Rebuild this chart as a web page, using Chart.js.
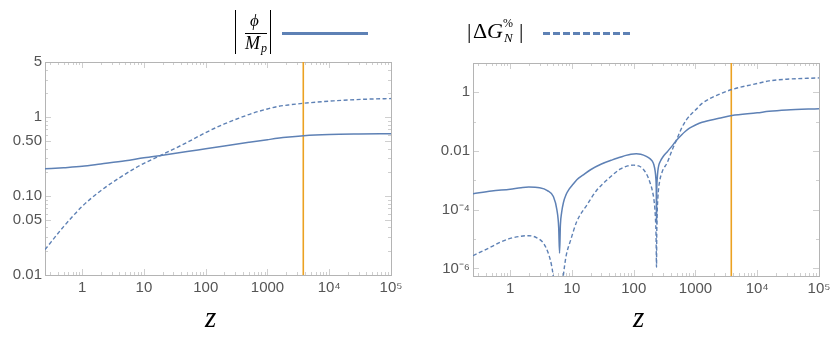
<!DOCTYPE html>
<html>
<head>
<meta charset="utf-8">
<script src="https://cdn.jsdelivr.net/npm/chart.js@4.4.1/dist/chart.umd.min.js"></script>
<style>
  body { margin: 0; background: #fff; }
  #wrap { position: relative; width: 833px; height: 344px; overflow: hidden; }
  canvas { position: absolute; top: 0; }
  #chartA { left: 0; }
  #chartB { left: 420px; }
  .lg { position: absolute; font-family: "Liberation Serif", serif; color: #000; white-space: nowrap; }
  .it { font-style: italic; }
  .bar { position: absolute; background: #000; }
  .swatch { position: absolute; height: 3px; }
</style>
</head>
<body>
<div id="wrap">
  <canvas id="chartA" width="420" height="344"></canvas>
  <canvas id="chartB" width="413" height="344"></canvas>

  <!-- legend: |phi / M_p|  solid -->
  <div class="bar" style="left:235px;top:10px;width:1.3px;height:44px"></div>
  <span class="lg it" style="left:250px;top:12px;font-size:17px;line-height:17px">ϕ</span>
  <div class="bar" style="left:245px;top:33px;width:22px;height:1px"></div>
  <span class="lg it" style="left:245px;top:34px;font-size:18px;line-height:18px">M</span>
  <span class="lg it" style="left:261px;top:42px;font-size:12px;line-height:12px">p</span>
  <div class="bar" style="left:270px;top:10px;width:1.3px;height:44px"></div>
  <div class="swatch" style="left:282px;top:32px;width:86px;background:#5e81b5"></div>

  <!-- legend: |Delta G_N^%|  dashed -->
  <span class="lg" style="left:467px;top:20px;font-size:22px;line-height:22px">|</span>
  <span class="lg" style="left:473px;top:20px;font-size:22px;line-height:22px">Δ</span>
  <span class="lg it" style="left:487px;top:20px;font-size:22px;line-height:22px">G</span>
  <span class="lg" style="left:503px;top:17px;font-size:12px;line-height:12px">%</span>
  <span class="lg it" style="left:504px;top:31px;font-size:13px;line-height:13px">N</span>
  <span class="lg" style="left:519px;top:20px;font-size:22px;line-height:22px">|</span>
  <div class="swatch" style="left:543px;top:32px;width:88px;background:repeating-linear-gradient(90deg,#5e81b5 0 7px,transparent 7px 10px)"></div>
</div>

<script>
// ---- data ----
const xTicks = [1, 10, 100, 1000, 1e4, 1e5];
const xTickLabels = ['1', '10', '100', '1000', '10⁴', '10⁵'];
const zEq = 3800; // orange vertical line

// left panel
const yTicksA = [0.01, 0.05, 0.1, 0.5, 1, 5];
const yTickLabelsA = ['0.01', '0.05', '0.10', '0.50', '1', '5'];
const zPhiA = [0.25, 0.5, 1, 2, 5, 10, 20, 50, 100, 200, 500, 1000, 2000, 3870, 1e4, 3e4, 1e5];
const phiA = [0.222, 0.229, 0.238, 0.255, 0.28, 0.306, 0.33, 0.366, 0.398, 0.432, 0.48, 0.518, 0.555, 0.582, 0.603, 0.612, 0.616];
const zDgA = [0.25, 0.5, 1, 2, 4, 8, 20, 50, 100, 200, 357, 600, 1000, 1500, 2400, 3870, 1.17e4, 4e4, 1e5];
const dgA = [0.021, 0.041, 0.074, 0.117, 0.17, 0.237, 0.337, 0.479, 0.638, 0.82, 0.98, 1.135, 1.27, 1.37, 1.44, 1.5, 1.61, 1.69, 1.72];

// right panel
const yTicksB = [1e-6, 1e-4, 0.01, 1];
const yTickLabelsB = ['10⁻⁶', '10⁻⁴', '0.01', '1'];
const zPhiB = [0.25, 0.5, 1, 1.5, 2, 3, 4, 5, 5.7, 6.1, 6.3, 6.5, 6.8, 7.3, 8, 9, 10.5, 12, 15, 20, 30, 45, 60, 75, 90, 110,
  130, 160, 185, 200, 212, 222, 228, 232, 234,
  236, 240, 246, 255, 270, 300, 350, 420, 490, 600, 689, 800, 1000, 1280, 2400, 3900, 1e4, 1.55e4, 3e4, 1e5];
const phiB = [3.5e-4, 4.3e-4, 5.0e-4, 5.6e-4, 5.9e-4, 5.6e-4, 4.5e-4, 2.8e-4, 1e-4, 2.5e-5, 3.3e-6, 3e-5, 8e-5, 1.8e-4, 3.2e-4, 5e-4, 7.5e-4, 1.05e-3,
  1.5e-3, 2.3e-3, 3.6e-3, 5e-3, 6.1e-3, 7.1e-3, 7.8e-3, 8.1e-3,
  7.8e-3, 6.6e-3, 5.4e-3, 4.5e-3, 3.4e-3, 2.1e-3, 1.2e-3, 4.5e-4, 3.4e-5,
  4e-4, 1.1e-3, 2.1e-3, 3.3e-3, 4.5e-3, 6.5e-3, 9.5e-3, 0.015, 0.023, 0.036, 0.047, 0.06, 0.077, 0.096, 0.13, 0.162, 0.2, 0.225, 0.25, 0.278];
const zDgB = [0.25, 0.5, 0.7, 1, 1.5, 2, 2.7, 3.5, 4.2, 4.7, 5.0, 5.9, 7.2, 8, 9.5, 12, 18, 25, 40, 60, 80, 100,
  120, 140, 165, 185, 200, 215, 225, 230, 234,
  236, 238, 242, 250, 262, 290, 348, 420, 490, 600, 700, 850, 1000, 1280, 2400, 3900, 1e4, 1.55e4, 3e4, 1e5];
const dgB = [2.7e-6, 5.5e-6, 7.9e-6, 1.05e-5, 1.25e-5, 1.3e-5, 1.1e-5, 7e-6, 3e-6, 1.2e-6, 5e-7, 1e-8, 5e-7, 2.5e-6, 9e-6, 4e-5, 1.6e-4, 4.5e-4, 1.2e-3, 2.4e-3, 3.1e-3, 3.3e-3,
  3.1e-3, 2.5e-3, 1.5e-3, 8e-4, 4.5e-4, 1.8e-4, 5e-5, 1.3e-5, 1.1e-6,
  1.5e-5, 4e-5, 1.3e-4, 4e-4, 9e-4, 2e-3, 4e-3, 0.011, 0.023, 0.062, 0.11, 0.18, 0.25, 0.42, 0.85, 1.25, 2.0, 2.45, 2.8, 3.1];

const BLUE = '#5e81b5';
const ORANGE = '#eba122';
const TICK_FONT = { family: "'Liberation Sans', Arial, sans-serif", size: 15 };
const TICK_COLOR = '#555';

// log minor tick positions (2..9 per decade, or just whole decades)
function minorValues(min, max, everyDigit) {
  const out = [];
  for (let e = Math.floor(Math.log10(min)); e <= Math.ceil(Math.log10(max)); e++) {
    const ks = everyDigit ? [2, 3, 4, 5, 6, 7, 8, 9] : [1];
    ks.forEach(k => {
      const v = k * Math.pow(10, e);
      if (v >= min && v <= max) out.push(v);
    });
  }
  return out;
}

// Mathematica style frame with inward ticks on all four sides
const frameTicks = {
  id: 'frameTicks',
  beforeDatasetsDraw(chart, args, opts) {
    const { ctx, chartArea: a, scales } = chart;
    ctx.save();
    ctx.lineWidth = 1;
    ctx.strokeStyle = '#cfcfcf';
    const mark = (scale, v, len) => {
      const p = Math.round(scale.getPixelForValue(v)) + 0.5;
      ctx.beginPath();
      if (scale.axis === 'x') {
        ctx.moveTo(p, a.bottom); ctx.lineTo(p, a.bottom - len);
        ctx.moveTo(p, a.top); ctx.lineTo(p, a.top + len);
      } else {
        ctx.moveTo(a.left, p); ctx.lineTo(a.left + len, p);
        ctx.moveTo(a.right, p); ctx.lineTo(a.right - len, p);
      }
      ctx.stroke();
    };
    minorValues(scales.x.min, scales.x.max, true).forEach(v => mark(scales.x, v, 3));
    minorValues(scales.y.min, scales.y.max, opts.yMinorDigits).forEach(v => mark(scales.y, v, 3));
    scales.x.ticks.forEach(t => mark(scales.x, t.value, 6));
    scales.y.ticks.forEach(t => mark(scales.y, t.value, 6));
    ctx.strokeStyle = '#b4b4b4';
    ctx.strokeRect(Math.round(a.left) + 0.5, Math.round(a.top) + 0.5,
      Math.round(a.right - a.left), Math.round(a.bottom - a.top));
    ctx.restore();
  }
};

const toPoints = (xs, ys) => xs.map((x, i) => ({ x: x, y: ys[i] }));

function makeChart(id, c) {
  return new Chart(document.getElementById(id), {
    type: 'line',
    data: {
      datasets: [
        { data: toPoints(c.zPhi, c.phi), borderColor: BLUE, borderWidth: 1.5, cubicInterpolationMode: 'monotone' },
        { data: toPoints(c.zDg, c.dg), borderColor: BLUE, borderWidth: 1.4, borderDash: [4, 2.5], cubicInterpolationMode: 'monotone' },
        { data: [{ x: zEq, y: c.yMin }, { x: zEq, y: c.yMax }], borderColor: ORANGE, borderWidth: 1.6 }
      ]
    },
    options: {
      responsive: false,
      animation: false,
      devicePixelRatio: 1,
      elements: { point: { radius: 0 } },
      layout: { padding: { top: c.top, right: c.padRight, bottom: 0, left: 0 } },
      plugins: {
        legend: { display: false },
        tooltip: { enabled: false },
        frameTicks: { yMinorDigits: c.yMinorDigits }
      },
      scales: {
        x: {
          type: 'logarithmic', min: 0.25, max: 1e5,
          afterBuildTicks: s => { s.ticks = xTicks.map(v => ({ value: v })); },
          afterFit: s => { s.height = c.xHeight; s.paddingLeft = 0; s.paddingRight = 0; },
          grid: { display: false, drawTicks: false },
          border: { display: false },
          ticks: {
            autoSkip: false, maxRotation: 0, padding: 4, color: TICK_COLOR, font: TICK_FONT,
            callback: (v, i) => xTickLabels[i]
          },
          title: {
            // trailing en space nudges the glyph a little left of the axis centre, as in the original
            display: true, text: 'z\u2002', color: '#000',
            font: { family: "'Liberation Serif', serif", style: 'italic', weight: 'normal', size: 29 },
            padding: { top: 0, bottom: 7 }
          }
        },
        y: {
          type: 'logarithmic', min: c.yMin, max: c.yMax,
          afterBuildTicks: s => { s.ticks = c.yTicks.map(v => ({ value: v })); },
          afterFit: s => { s.width = c.yWidth; },
          grid: { display: false, drawTicks: false },
          border: { display: false },
          ticks: {
            autoSkip: false, padding: 3, color: TICK_COLOR, font: TICK_FONT,
            callback: (v, i) => c.yLabels[i]
          }
        }
      }
    },
    plugins: [frameTicks]
  });
}

makeChart('chartA', {
  zPhi: zPhiA, phi: phiA, zDg: zDgA, dg: dgA,
  yMin: 0.01, yMax: 5, yTicks: yTicksA, yLabels: yTickLabelsA, yMinorDigits: true,
  top: 62, padRight: 29, xHeight: 69, yWidth: 45
});

makeChart('chartB', {
  zPhi: zPhiB, phi: phiB, zDg: zDgB, dg: dgB,
  yMin: 5.5e-7, yMax: 10, yTicks: yTicksB, yLabels: yTickLabelsB, yMinorDigits: false,
  top: 63, padRight: 14, xHeight: 68, yWidth: 53
});
</script>
</body>
</html>
